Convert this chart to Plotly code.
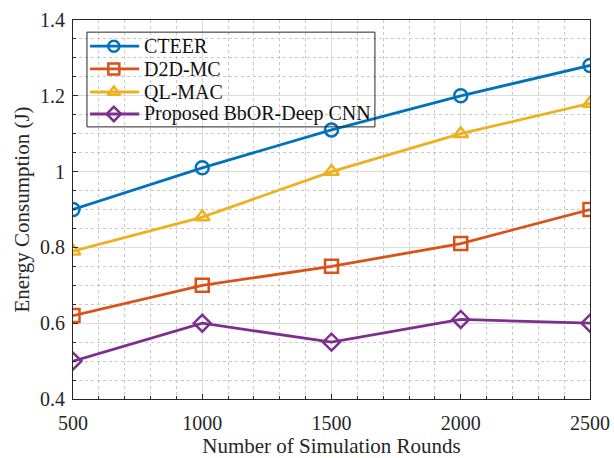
import plotly.graph_objects as go

rounds = [500, 1000, 1500, 2000, 2500]
cteer = [0.90, 1.01, 1.11, 1.20, 1.28]
d2d_mc = [0.62, 0.70, 0.75, 0.81, 0.90]
ql_mac = [0.79, 0.88, 1.00, 1.10, 1.18]
proposed = [0.50, 0.60, 0.55, 0.61, 0.60]

series_names = ["CTEER", "D2D-MC", "QL-MAC", "Proposed BbOR-Deep CNN"]
series_values = [cteer, d2d_mc, ql_mac, proposed]
colors = ["#0072BD", "#D95319", "#EDB120", "#7E2F8E"]
symbols = ["circle-open", "square-open", "triangle-up-open", "diamond-open"]

SERIF = "Liberation Serif, Times New Roman, serif"
TXT = "#262626"

fig = go.Figure()
for name, ys, color, sym in zip(series_names, series_values, colors, symbols):
    fig.add_trace(go.Scatter(
        x=rounds, y=ys, name=name, mode="lines+markers",
        line=dict(color=color, width=2.8),
        marker=dict(symbol=sym, size=13, color=color, line=dict(width=2.5, color=color)),
        showlegend=False,
    ))

axis_common = dict(
    showline=True, mirror=True, linecolor=TXT, linewidth=1,
    ticks="inside", ticklen=5, tickcolor=TXT,
    showgrid=True, gridcolor="#dcdcdc", gridwidth=1,
    zeroline=False, automargin=False,
    tickfont=dict(family=SERIF, size=20, color=TXT),
    title_font=dict(family=SERIF, size=21, color=TXT),
)

fig.update_xaxes(
    range=[500, 2500], tickvals=rounds, ticktext=[str(r) for r in rounds],
    title_text="Number of Simulation Rounds", title_standoff=2, ticklabelstandoff=6,
    minor=dict(dtick=100, tick0=500, showgrid=True, griddash="dot", gridcolor="#c8c8c8", ticks="inside", ticklen=3, tickcolor=TXT),
    **axis_common,
)
fig.update_yaxes(
    range=[0.4, 1.4], tickvals=[0.4, 0.6, 0.8, 1.0, 1.2, 1.4], ticktext=["0.4", "0.6", "0.8", "1", "1.2", "1.4"],
    title_text="Energy Consumption (J)", title_standoff=4, ticklabelstandoff=3,
    minor=dict(dtick=0.05, tick0=0.4, showgrid=True, griddash="dot", gridcolor="#c8c8c8", ticks="inside", ticklen=3, tickcolor=TXT),
    **axis_common,
)

# Custom compact MATLAB-like legend
leg_x0, leg_x1, leg_ytop, leg_ybot = 0.027, 0.584, 0.968, 0.718
row_y = [0.931, 0.871, 0.810, 0.752]
line_x0, line_x1, mark_x, text_x = 0.033, 0.128, 0.079, 0.133

fig.add_shape(type="rect", xref="paper", yref="paper",
              x0=leg_x0, x1=leg_x1, y0=leg_ybot, y1=leg_ytop,
              line=dict(width=0), fillcolor="white", layer="between")
fig.add_shape(type="rect", xref="paper", yref="paper",
              x0=leg_x0, x1=leg_x1, y0=leg_ybot, y1=leg_ytop,
              line=dict(color=TXT, width=1), fillcolor="rgba(0,0,0,0)", layer="above")
for i, (name, color) in enumerate(zip(series_names, colors)):
    fig.add_shape(type="line", xref="paper", yref="paper",
                  x0=line_x0, x1=line_x1, y0=row_y[i], y1=row_y[i],
                  line=dict(color=color, width=2.8), layer="above")
    fig.add_annotation(x=text_x, y=row_y[i], xref="paper", yref="paper",
                       text=name, showarrow=False, xanchor="left", yanchor="middle",
                       font=dict(family=SERIF, size=20, color="#111111"))
fig.add_trace(go.Scatter(
    x=[mark_x] * len(series_names), y=row_y, xaxis="x2", yaxis="y2",
    mode="markers", showlegend=False, hoverinfo="skip",
    marker=dict(symbol=symbols, size=11, color=colors, line=dict(width=2.5, color=colors)),
))

fig.update_layout(
    width=614, height=458,
    margin=dict(l=73, r=24, t=20, b=59),
    plot_bgcolor="white", paper_bgcolor="white",
    font=dict(family=SERIF, color=TXT),
    xaxis2=dict(overlaying="x", anchor="y2", range=[0, 1], visible=False, fixedrange=True),
    yaxis2=dict(overlaying="y", anchor="x2", range=[0, 1], visible=False, fixedrange=True),
    showlegend=False,
)

fig.write_html("out.html")
